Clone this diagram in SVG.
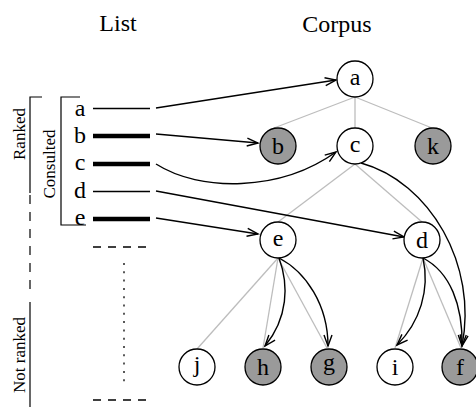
<svg xmlns="http://www.w3.org/2000/svg" width="476" height="407" viewBox="0 0 476 407" font-family="'Liberation Serif', 'Times New Roman', serif">
<defs>
<style>
text{font-family:'Liberation Serif','Times New Roman',serif;fill:#000}
.title{font-size:24px;text-anchor:middle}
.lbl{font-size:24px;text-anchor:middle}
.side{font-size:17px;text-anchor:middle}
.node circle{stroke:#000;stroke-width:1.3}
.w circle{fill:#fff}
.g circle{fill:#9a9a9a}
.tree line{stroke:#bdbdbd;stroke-width:1.3}
.arr{fill:none;stroke:#000;stroke-width:1.4;marker-end:url(#ah)}
.br{fill:none;stroke:#000;stroke-width:1.2}
</style>
<marker id="ah" markerUnits="userSpaceOnUse" markerWidth="14" markerHeight="10" refX="11" refY="4" orient="auto" overflow="visible">
<path d="M0,0 L11,4 L0,8" fill="none" stroke="#000" stroke-width="1.4"/>
</marker>
</defs>
<rect width="476" height="407" fill="#fff"/>

<text class="title" x="118" y="31" font-family="Liberation Serif, serif">List</text>
<text class="title" x="337" y="32" font-family="Liberation Serif, serif">Corpus</text>

<g id="brackets" font-family="Liberation Serif, serif">
<path class="br" d="M42,97 H30 V193"/>
<line class="br" x1="30" y1="195" x2="30" y2="295" stroke-dasharray="9 8"/>
<line class="br" x1="30" y1="302" x2="30" y2="407"/>
<path class="br" d="M80,97 H61 V225 H86"/>
<text class="side" transform="translate(25,134) rotate(-90)">Ranked</text>
<text class="side" transform="translate(55,164) rotate(-90)">Consulted</text>
<text class="side" transform="translate(25,355) rotate(-90)">Not ranked</text>
</g>

<g id="list" font-family="Liberation Serif, serif">
<text class="lbl" x="80" y="116">a</text>
<text class="lbl" x="80" y="143">b</text>
<text class="lbl" x="80" y="170">c</text>
<text class="lbl" x="80" y="198">d</text>
<text class="lbl" x="80" y="225">e</text>
<line x1="93" y1="108.5" x2="150" y2="108.5" stroke="#000" stroke-width="1.3"/>
<line x1="93" y1="136" x2="150" y2="136" stroke="#000" stroke-width="4.5"/>
<line x1="93" y1="164" x2="150" y2="164" stroke="#000" stroke-width="4.5"/>
<line x1="93" y1="191.5" x2="150" y2="191.5" stroke="#000" stroke-width="1.3"/>
<line x1="93" y1="219" x2="150" y2="219" stroke="#000" stroke-width="4.5"/>
<line x1="93" y1="247" x2="150" y2="247" stroke="#000" stroke-width="1.3" stroke-dasharray="8 7"/>
<line x1="93" y1="400" x2="150" y2="400" stroke="#000" stroke-width="1.3" stroke-dasharray="8 7"/>
<line x1="124" y1="263" x2="124" y2="383" stroke="#000" stroke-width="1.3" stroke-dasharray="2 6.3"/>
</g>

<g id="tree" class="tree">
<line x1="355" y1="97" x2="274" y2="128"/>
<line x1="355" y1="97" x2="355" y2="128"/>
<line x1="355" y1="97" x2="432" y2="128"/>
<line x1="355" y1="164" x2="278" y2="222"/>
<line x1="355" y1="164" x2="422" y2="222"/>
<line x1="278" y1="258" x2="197" y2="349"/>
<line x1="278" y1="258" x2="263" y2="348"/>
<line x1="278" y1="258" x2="327" y2="348"/>
<line x1="423" y1="258" x2="395" y2="348"/>
<line x1="423" y1="258" x2="461" y2="348"/>
</g>

<g id="connectors">
<path class="arr" d="M156,108 L336,80"/>
<path class="arr" d="M156,134 L258,143"/>
<path class="arr" d="M156,164 C200,192 280,192 336,152"/>
<path class="arr" d="M156,191 L404,237"/>
<path class="arr" d="M156,218 L258,234"/>
<path class="arr" d="M361,163 C430,182 478,265 462,346"/>
<path class="arr" d="M279,258 C289,285 288,318 265,346"/>
<path class="arr" d="M279,258 C306,272 328,305 328,346"/>
<path class="arr" d="M423,258 C430,290 420,322 397,345"/>
<path class="arr" d="M423,258 C450,272 463,305 462,346"/>
</g>

<g font-family="Liberation Serif, serif">
<g id="node-a" class="node w"><circle cx="355" cy="79" r="18"/><text class="lbl" x="355" y="85">a</text></g>
<g id="node-b" class="node g"><circle cx="278" cy="146" r="18"/><text class="lbl" x="278" y="154">b</text></g>
<g id="node-c" class="node w"><circle cx="355" cy="146" r="18"/><text class="lbl" x="355" y="152">c</text></g>
<g id="node-k" class="node g"><circle cx="433" cy="146" r="18"/><text class="lbl" x="433" y="154">k</text></g>
<g id="node-e" class="node w"><circle cx="278" cy="240" r="18"/><text class="lbl" x="278" y="246">e</text></g>
<g id="node-d" class="node w"><circle cx="422" cy="240" r="18"/><text class="lbl" x="422" y="248">d</text></g>
<g id="node-j" class="node w"><circle cx="197" cy="367" r="18"/><text class="lbl" x="197" y="372">j</text></g>
<g id="node-h" class="node g"><circle cx="263" cy="367" r="18"/><text class="lbl" x="263" y="375">h</text></g>
<g id="node-g" class="node g"><circle cx="329" cy="367" r="18"/><text class="lbl" x="329" y="370">g</text></g>
<g id="node-i" class="node w"><circle cx="395" cy="367" r="18"/><text class="lbl" x="395" y="375">i</text></g>
<g id="node-f" class="node g"><circle cx="460" cy="367" r="18"/><text class="lbl" x="460" y="375">f</text></g>
</g>
</svg>
